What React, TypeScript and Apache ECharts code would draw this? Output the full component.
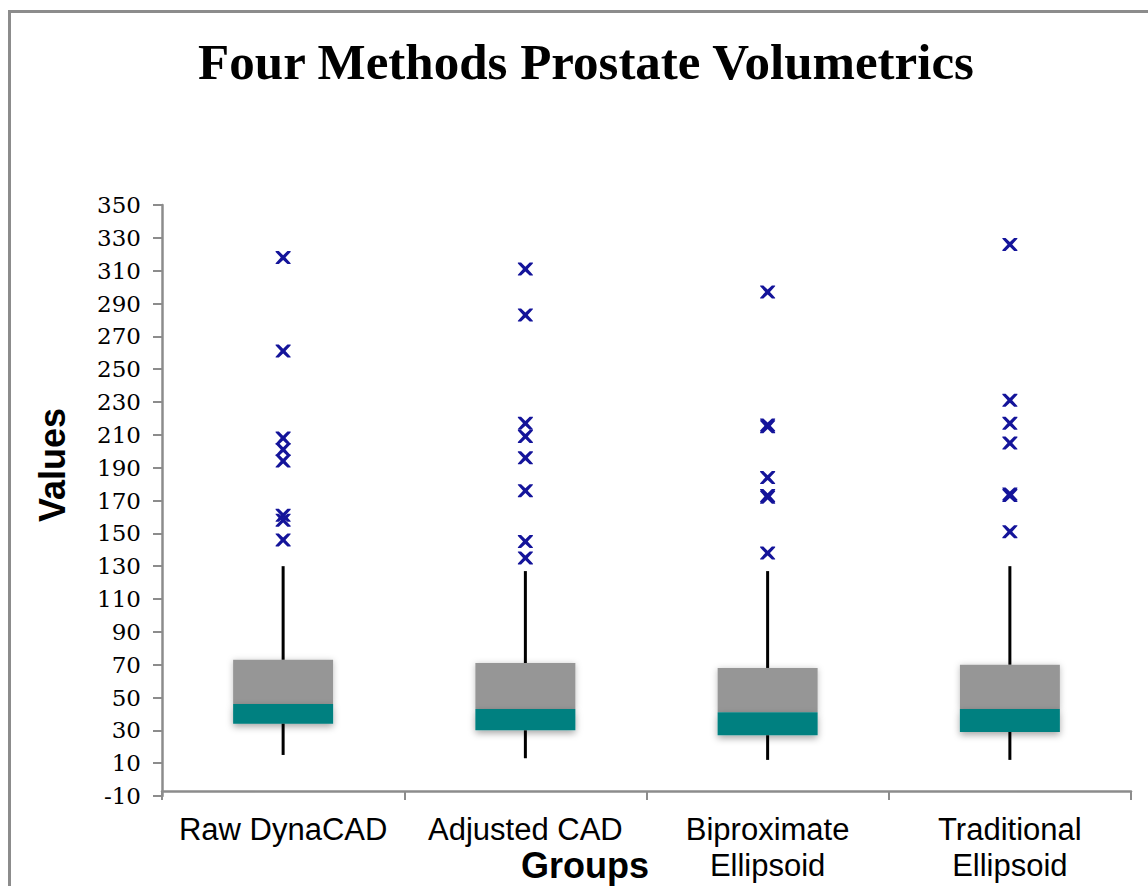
import React, { useEffect, useRef } from "react";
import * as echarts from "echarts";

const categories = ["Raw DynaCAD", "Adjusted CAD", "Biproximate\nEllipsoid", "Traditional\nEllipsoid"];
const whiskerLow = [15, 13, 12, 12];
const q1 = [34, 30, 27, 29];
const median = [46, 43, 41, 43];
const q3 = [73, 71, 68, 70];
const whiskerHigh = [130, 127, 127, 130];
const outliersRaw = [318, 261, 208, 201, 194, 161, 158, 146];
const outliersAdjusted = [311, 283, 217, 209, 196, 176, 145, 135];
const outliersBiproximate = [297, 216, 215, 184, 173, 172, 138];
const outliersTraditional = [326, 231, 217, 205, 174, 173, 151];
const yTicks = [-10, 10, 30, 50, 70, 90, 110, 130, 150, 170, 190, 210, 230, 250, 270, 290, 310, 330, 350];

const titleText = "Four Methods Prostate Volumetrics";
const yName = "Values";
const xName = "Groups";

const X_SYMBOL =
  "path://M0,0 L3,0 L7,3.8 L11,0 L14,0 L14,0.8 L9.2,6 L14,11.2 L14,12 L11,12 L7,8.2 L3,12 L0,12 L0,11.2 L4.8,6 L0,0.8 Z";

export default function App() {
  const ref = useRef<HTMLDivElement>(null);

  useEffect(() => {
    document.body.style.margin = "0";
    if (!ref.current) return;
    const chart = echarts.init(ref.current, null, { renderer: "svg" });

    const outlierGroups = [outliersRaw, outliersAdjusted, outliersBiproximate, outliersTraditional];
    const outlierData: number[][] = [];
    outlierGroups.forEach((g, i) => g.forEach((v) => outlierData.push([i, v])));

    const axisColor = "#8c8c8c";

    chart.setOption({
      animation: false,
      backgroundColor: "#ffffff",
      grid: { left: 162, right: 17, top: 205, bottom: 90 },
      graphic: [
        {
          type: "rect",
          shape: { x: 9.5, y: 11.5, width: 1300, height: 1000 },
          style: { fill: "none", stroke: axisColor, lineWidth: 3 },
          silent: true,
        },
        {
          type: "text",
          x: 586,
          y: 62,
          style: {
            text: titleText,
            textAlign: "center",
            textVerticalAlign: "middle",
            font: 'bold 51px "Liberation Serif"',
            fill: "#000",
          },
        },
        {
          type: "text",
          x: 52,
          y: 465,
          rotation: Math.PI / 2,
          style: {
            text: yName,
            textAlign: "center",
            textVerticalAlign: "middle",
            font: 'bold 36px "Liberation Sans"',
            fill: "#000",
          },
        },
        {
          type: "text",
          x: 585,
          y: 865,
          style: {
            text: xName,
            textAlign: "center",
            textVerticalAlign: "middle",
            font: 'bold 36px "Liberation Sans"',
            fill: "#000",
          },
        },
      ],
      xAxis: {
        type: "category",
        data: categories,
        offset: -5,
        axisLine: { onZero: false, lineStyle: { color: axisColor, width: 2.5 } },
        axisTick: { show: true, length: 9, lineStyle: { color: axisColor, width: 2 } },
        axisLabel: {
          color: "#000",
          fontFamily: "Liberation Sans",
          fontSize: 31,
          lineHeight: 36,
          margin: 20,
          interval: 0,
        },
        splitLine: { show: false },
      },
      yAxis: {
        type: "value",
        min: -10,
        max: 350,
        axisLine: { show: true, lineStyle: { color: axisColor, width: 2.5 } },
        axisTick: { show: true, length: 9, lineStyle: { color: axisColor, width: 2 }, customValues: yTicks },
        axisLabel: {
          color: "#000",
          fontFamily: "DejaVu Serif",
          fontSize: 23,
          margin: 21,
          customValues: yTicks,
        },
        splitLine: { show: false },
      },
      series: [
        {
          type: "bar",
          stack: "box",
          barWidth: 100,
          data: q1,
          itemStyle: { color: "transparent" },
          silent: true,
        },
        {
          type: "bar",
          stack: "box",
          barWidth: 100,
          z: 3,
          data: q1.map((v, i) => median[i] - v),
          itemStyle: {
            color: "#008080",
            shadowBlur: 7,
            shadowColor: "rgba(0,0,0,0.35)",
            shadowOffsetY: 3,
          },
        },
        {
          type: "bar",
          stack: "box",
          barWidth: 100,
          z: 2,
          data: median.map((v, i) => q3[i] - v),
          itemStyle: {
            color: "#969696",
            shadowBlur: 6,
            shadowColor: "rgba(0,0,0,0.25)",
            shadowOffsetY: 1,
          },
        },
        {
          type: "custom",
          z: 4,
          data: categories.map((_, i) => [i, whiskerLow[i], q1[i], q3[i], whiskerHigh[i]]),
          encode: { x: 0, y: [1, 2, 3, 4] },
          renderItem: (params: any, api: any) => {
            const x = api.value(0);
            const lo = api.coord([x, api.value(1)]);
            const b = api.coord([x, api.value(2)]);
            const t = api.coord([x, api.value(3)]);
            const hi = api.coord([x, api.value(4)]);
            return {
              type: "group",
              children: [
                {
                  type: "line",
                  shape: { x1: lo[0], y1: lo[1], x2: b[0], y2: b[1] },
                  style: { stroke: "#000", lineWidth: 3 },
                },
                {
                  type: "line",
                  shape: { x1: t[0], y1: t[1], x2: hi[0], y2: hi[1] },
                  style: { stroke: "#000", lineWidth: 3 },
                },
              ],
            };
          },
        },
        {
          type: "scatter",
          z: 5,
          symbol: X_SYMBOL,
          symbolSize: [15, 13],
          data: outlierData,
          itemStyle: { color: "#14149a", opacity: 1 },
        },
      ],
    });

    return () => chart.dispose();
  }, []);

  return <div ref={ref} style={{ width: 1148, height: 886 }} />;
}
